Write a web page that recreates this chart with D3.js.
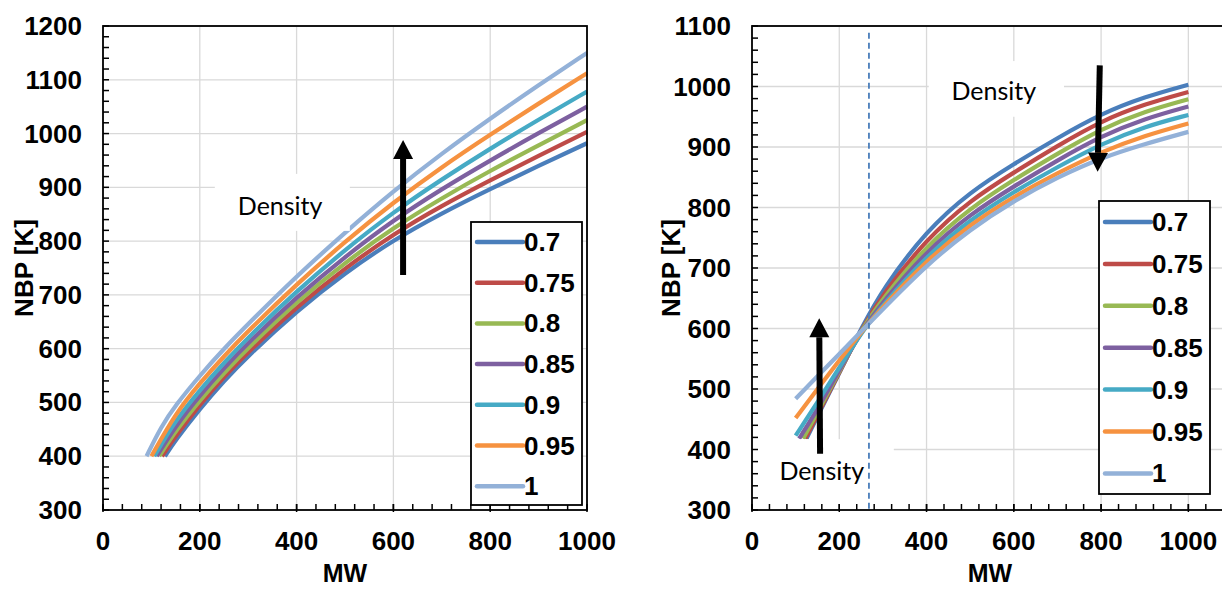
<!DOCTYPE html>
<html>
<head>
<meta charset="utf-8">
<script src="https://cdn.jsdelivr.net/npm/d3@7/dist/d3.min.js"></script>
<style>
  html, body { margin: 0; padding: 0; background: #ffffff; }
  svg { display: block; }
  text { font-family: "Liberation Sans", Arial, sans-serif; }
</style>
</head>
<body>
<svg id="chart" width="1222" height="589"></svg>
<script>
// Density series labels and colours
const densities = ["0.7", "0.75", "0.8", "0.85", "0.9", "0.95", "1"];
const seriesColors = ["#4a7ebb", "#be4b48", "#98b954", "#7d60a0", "#46aac5", "#f69240", "#93b1d8"];

// Left panel: NBP [K] vs MW, one array of [MW, NBP] per density
const left07  = [[128,400],[150,430],[200,488],[250,540],[300,587],[400,670],[500,741],[600,802],[700,852],[800,897],[900,940],[1000,982]];
const left075 = [[122,400],[150,438],[200,496],[250,548],[300,594],[400,678],[500,750],[600,813],[700,866],[800,913],[900,959],[1000,1003]];
const left08  = [[116,400],[150,447],[200,504],[250,555],[300,602],[400,687],[500,760],[600,825],[700,880],[800,931],[900,978],[1000,1025]];
const left085 = [[111,400],[150,456],[200,513],[250,564],[300,611],[400,696],[500,771],[600,839],[700,897],[800,950],[900,1001],[1000,1050]];
const left09  = [[106,400],[150,467],[200,523],[250,574],[300,621],[400,707],[500,784],[600,854],[700,915],[800,972],[900,1026],[1000,1078]];
const left095 = [[100,400],[150,480],[200,536],[250,586],[300,633],[400,720],[500,799],[600,872],[700,938],[800,998],[900,1056],[1000,1112]];
const left1   = [[90,400],[120,455],[150,495],[200,550],[250,600],[300,646],[400,735],[500,816],[600,893],[700,963],[800,1028],[900,1090],[1000,1150]];

// Right panel
const right07  = [[125,418],[150,455],[200,526],[250,600],[300,666],[400,762],[500,826],[600,872],[700,915],[800,955],[900,983],[1000,1003]];
const right075 = [[122,418],[150,457],[200,527],[250,598],[300,657],[400,748],[500,812],[600,858],[700,902],[800,943],[900,971],[1000,991]];
const right08  = [[117,418],[150,461],[200,529],[250,597],[300,650],[400,737],[500,799],[600,846],[700,889],[800,930],[900,959],[1000,979]];
const right085 = [[108,418],[150,466],[200,531],[250,595],[300,644],[400,728],[500,789],[600,835],[700,878],[800,918],[900,947],[1000,967]];
const right09  = [[100,423],[150,478],[200,535],[250,593],[300,639],[400,720],[500,780],[600,826],[700,867],[800,905],[900,934],[1000,953]];
const right095 = [[100,452],[150,500],[200,547],[250,594],[300,636],[400,713],[500,772],[600,818],[700,857],[800,892],[900,919],[1000,939]];
const right1   = [[100,484],[150,521],[200,558],[250,595],[300,632],[400,705],[500,764],[600,811],[700,850],[800,882],[900,905],[1000,925]];

// Axis ticks
const xTicks = [0, 200, 400, 600, 800, 1000];
const leftYTicks = [300, 400, 500, 600, 700, 800, 900, 1000, 1100, 1200];
const rightYTicks = [300, 400, 500, 600, 700, 800, 900, 1000, 1100];

// Reference line on the right panel (MW)
const refLineMW = 268;

const svg = d3.select("#chart");

function drawPanel(cfg) {
  const x = d3.scaleLinear().domain(cfg.xDomain).range(cfg.xRange);
  const y = d3.scaleLinear().domain(cfg.yDomain).range(cfg.yRange);
  const g = svg.append("g");
  const [x0, x1] = cfg.xRange;
  const [yb, yt] = cfg.yRange;

  // gridlines
  g.append("g").selectAll("line").data(cfg.yTicks.filter(v => v > cfg.yDomain[0]))
    .join("line")
    .attr("x1", x0).attr("x2", x1)
    .attr("y1", d => y(d)).attr("y2", d => y(d))
    .attr("stroke", "#d9d9d9").attr("stroke-width", 1.3);
  g.append("g").selectAll("line").data(xTicks.filter(v => v > cfg.xDomain[0]))
    .join("line")
    .attr("x1", d => x(d)).attr("x2", d => x(d))
    .attr("y1", yb).attr("y2", yt)
    .attr("stroke", "#d9d9d9").attr("stroke-width", 1.3);

  // series
  const line = d3.line().x(d => x(d[0])).y(d => y(d[1])).curve(d3.curveBasis);
  g.append("g").selectAll("path").data(cfg.series)
    .join("path")
    .attr("d", d => line(d))
    .attr("fill", "none")
    .attr("stroke", (d, i) => seriesColors[i])
    .attr("stroke-width", 4.2)
    .attr("stroke-linecap", "butt")
    .attr("stroke-linejoin", "round");

  // white text boxes
  cfg.boxes.forEach(b => {
    g.append("rect")
      .attr("x", x(b.mw[0])).attr("y", y(b.nbp[1]))
      .attr("width", x(b.mw[1]) - x(b.mw[0]))
      .attr("height", y(b.nbp[0]) - y(b.nbp[1]))
      .attr("fill", "#ffffff");
  });
  cfg.labels.forEach(l => {
    g.append("text")
      .attr("x", x(l.mw)).attr("y", y(l.nbp))
      .attr("text-anchor", "middle").attr("dominant-baseline", "central")
      .style("font-family", "Lato, 'Open Sans', sans-serif")
      .style("font-size", "25px")
      .attr("fill", "#000")
      .text(l.text);
  });

  if (cfg.refLine !== undefined) {
    g.append("line")
      .attr("x1", x(cfg.refLine)).attr("x2", x(cfg.refLine))
      .attr("y1", y(1089)).attr("y2", yb)
      .attr("stroke", "#4a7ebb").attr("stroke-width", 1.8)
      .attr("stroke-dasharray", "6,4");
  }

  // arrows
  cfg.arrows.forEach(a => {
    const xs = x(a.from[0]), ys = y(a.from[1]);
    const xe = x(a.to[0]), ye = y(a.to[1]);
    const ang = Math.atan2(ye - ys, xe - xs);
    const headLen = 19, headHalf = 10;
    const bx = xe - headLen * Math.cos(ang), by = ye - headLen * Math.sin(ang);
    g.append("line")
      .attr("x1", xs).attr("y1", ys).attr("x2", bx).attr("y2", by)
      .attr("stroke", "#000").attr("stroke-width", 6);
    const px = -Math.sin(ang), py = Math.cos(ang);
    g.append("path")
      .attr("d", `M${xe},${ye} L${bx + px * headHalf},${by + py * headHalf} L${bx - px * headHalf},${by - py * headHalf} Z`)
      .attr("fill", "#000");
  });

  // minor / major ticks (inside)
  const xMinor = d3.range(cfg.xDomain[0], cfg.xDomain[1] + 1, 40);
  const yMinor = d3.range(cfg.yDomain[0], cfg.yDomain[1] + 1, 20);
  g.append("g").selectAll("line").data(xMinor).join("line")
    .attr("x1", d => x(d)).attr("x2", d => x(d))
    .attr("y1", yb).attr("y2", yb - 6)
    .attr("stroke", "#000").attr("stroke-width", 1.5);
  g.append("g").selectAll("line").data(xTicks).join("line")
    .attr("x1", d => x(d)).attr("x2", d => x(d))
    .attr("y1", yb + 2).attr("y2", yb - 6)
    .attr("stroke", "#000").attr("stroke-width", 1.5);
  g.append("g").selectAll("line").data(yMinor).join("line")
    .attr("x1", x0).attr("x2", x0 + 6)
    .attr("y1", d => y(d)).attr("y2", d => y(d))
    .attr("stroke", "#000").attr("stroke-width", 1.5);

  // plot border
  g.append("rect")
    .attr("x", x0).attr("y", yt)
    .attr("width", x1 - x0).attr("height", yb - yt)
    .attr("fill", "none").attr("stroke", "#000").attr("stroke-width", 1.8);

  // tick labels
  g.append("g").selectAll("text").data(xTicks).join("text")
    .attr("x", d => x(d)).attr("y", yb + 40)
    .attr("text-anchor", "middle")
    .style("font-size", "26px").style("font-weight", "bold")
    .text(d => d);
  g.append("g").selectAll("text").data(cfg.yTicks).join("text")
    .attr("x", x0 - 21).attr("y", d => y(d))
    .attr("text-anchor", "end").attr("dominant-baseline", "central")
    .style("font-size", "26px").style("font-weight", "bold")
    .text(d => d);

  // axis titles
  g.append("text")
    .attr("x", cfg.xTitleX).attr("y", 582)
    .attr("text-anchor", "middle")
    .style("font-size", "25px").style("font-weight", "bold")
    .text("MW");
  g.append("text")
    .attr("transform", `translate(${cfg.yTitleX},${(yb + yt) / 2}) rotate(-90)`)
    .attr("text-anchor", "middle").attr("dominant-baseline", "central")
    .style("font-size", "26px").style("font-weight", "bold")
    .text("NBP [K]");

  // legend
  const lg = g.append("g");
  lg.append("rect")
    .attr("x", cfg.legend.x).attr("y", cfg.legend.y)
    .attr("width", cfg.legend.w).attr("height", cfg.legend.h)
    .attr("fill", "#fff").attr("stroke", "#000").attr("stroke-width", 1.8);
  densities.forEach((name, i) => {
    const ly = cfg.legend.firstY + i * cfg.legend.step;
    lg.append("line")
      .attr("x1", cfg.legend.x + 6).attr("x2", cfg.legend.x + 52)
      .attr("y1", ly).attr("y2", ly)
      .attr("stroke", seriesColors[i]).attr("stroke-width", 4.5)
      .attr("stroke-linecap", "round");
    lg.append("text")
      .attr("x", cfg.legend.x + 53).attr("y", ly)
      .attr("dominant-baseline", "central")
      .style("font-size", "26px").style("font-weight", "bold")
      .text(name);
  });
}

drawPanel({
  xDomain: [0, 1000], xRange: [103, 587],
  yDomain: [300, 1200], yRange: [510, 26],
  yTicks: leftYTicks,
  series: [left07, left075, left08, left085, left09, left095, left1],
  boxes: [{ mw: [231, 510], nbp: [819, 925] }],
  labels: [{ text: "Density", mw: 366, nbp: 867 }],
  arrows: [{ from: [620, 737], to: [620, 988] }],
  xTitleX: 345, yTitleX: 24,
  legend: { x: 471, y: 222, w: 111, h: 283, firstY: 242, step: 40.7 }
});

drawPanel({
  xDomain: [0, 1100], xRange: [752, 1232],
  yDomain: [300, 1100], yRange: [510, 26],
  yTicks: rightYTicks,
  series: [right07, right075, right08, right085, right09, right095, right1],
  boxes: [{ mw: [405, 715], nbp: [950, 1042] }, { mw: [1, 325], nbp: [301, 417] }],
  labels: [{ text: "Density", mw: 554, nbp: 994 }, { text: "Density", mw: 160, nbp: 366 }],
  refLine: refLineMW,
  arrows: [{ from: [797, 1035], to: [792, 859] }, { from: [156, 393], to: [154, 617] }],
  xTitleX: 990, yTitleX: 671,
  legend: { x: 1099, y: 201, w: 111, h: 293, firstY: 222, step: 41.9 }
});
</script>
</body>
</html>
